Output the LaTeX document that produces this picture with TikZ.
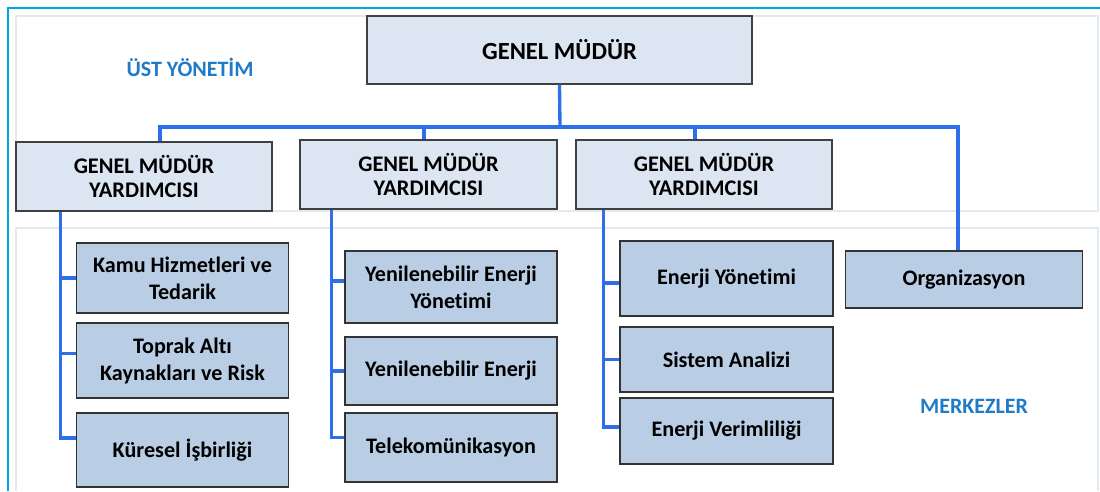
\documentclass[tikz,border=0pt]{standalone}
\usepackage{fontspec}
\setmainfont{Carlito}[Ligatures=NoCommon]
\usepackage{tikz}
\usetikzlibrary{calc}

\definecolor{wireblue}{HTML}{2F6EEB}
\definecolor{framecyan}{HTML}{00A8E6}
\definecolor{panelgray}{HTML}{E2EAEE}
\definecolor{headfill}{HTML}{DCE6F2}
\definecolor{unitfill}{HTML}{B9CDE5}
\definecolor{titleblue}{HTML}{1F7BC8}

\tikzset{
  headbox/.style={draw=black!75, line width=0.8pt, fill=headfill, align=center,
    font=\fontsize{12.7}{13.2}\selectfont\bfseries},
  unitbox/.style={draw=black!80, line width=0.8pt, fill=unitfill, align=center,
    minimum width=4.25cm, font=\fontsize{12.6}{15.4}\selectfont\bfseries},
  wire/.style={wireblue, line width=1.9pt},
  tier/.style={titleblue, font=\fontsize{12.5}{14}\selectfont\bfseries}
}

\begin{document}
\begin{tikzpicture}[x=0.02cm,y=-0.02cm]
    \useasboundingbox (0,0) rectangle (1100,491);

    % frame and panels
    \draw[framecyan, line width=1pt] (8,491) -- (8,8) -- (1100,8);
    \draw[panelgray, line width=0.6pt] (16,16) rectangle (1098,211);
    \draw[panelgray, line width=0.6pt] (16,491) |- (1098,228) -- (1098,491);

    \node[tier] (ust) at (190,67) {ÜST YÖNETİM};
    \node[tier] (merk) at (974,406) {MERKEZLER};

    % top
    \node[headbox, minimum width=7.7cm, minimum height=1.36cm,
      font=\fontsize{14}{15}\selectfont\bfseries] (GM) at (559.5,50) {GENEL MÜDÜR};
    \node[headbox, minimum width=5.12cm, minimum height=1.38cm] (GMY1) at (144,176.5) {GENEL MÜDÜR\\YARDIMCISI};
    \node[headbox, minimum width=5.14cm, minimum height=1.38cm] (GMY2) at (428.5,174.5) {GENEL MÜDÜR\\YARDIMCISI};
    \node[headbox, minimum width=5.12cm, minimum height=1.38cm] (GMY3) at (704,174.5) {GENEL MÜDÜR\\YARDIMCISI};
    \node[unitbox, minimum width=4.74cm, minimum height=1.14cm] (org) at (964,279.5) {Organizasyon};

    % units
    \node[unitbox, minimum height=1.4cm] (kamu) at (182.5,278) {Kamu Hizmetleri ve\\Tedarik};
    \node[unitbox, minimum height=1.5cm] (toprak) at (182.5,360.5) {Toprak Altı\\Kaynakları ve Risk};
    \node[unitbox, minimum height=1.48cm] (kuresel) at (182.5,450) {Küresel İşbirliği};

    \node[unitbox, minimum width=4.24cm, minimum height=1.44cm] (yeny) at (451,287) {Yenilenebilir Enerji\\Yönetimi};
    \node[unitbox, minimum width=4.24cm, minimum height=1.36cm] (yen) at (451,371) {Yenilenebilir Enerji};
    \node[unitbox, minimum width=4.24cm, minimum height=1.38cm] (tele) at (451,447.5) {Telekomünikasyon};

    \node[unitbox, minimum width=4.26cm, minimum height=1.5cm] (eny) at (726.5,278.5) {Enerji Yönetimi};
    \node[unitbox, minimum width=4.26cm, minimum height=1.3cm] (sis) at (726.5,359.5) {Sistem Analizi};
    \node[unitbox, minimum width=4.26cm, minimum height=1.32cm] (env) at (726.5,431) {Enerji Verimliliği};

    % top level wiring
    \coordinate (bus) at (560,127);
    \draw[wire] (GM.south) -- (bus);
    \draw[wire] ([xshift=0.32cm]GMY1.north) |- (bus) -| ([xshift=-0.12cm]org.north);
    \draw[wire] ([xshift=-0.09cm]GMY2.north) -- ([xshift=-0.09cm]GMY2.north |- bus);
    \draw[wire] ([xshift=-0.18cm]GMY3.north) -- ([xshift=-0.18cm]GMY3.north |- bus);

    % column spines
    \coordinate (s1) at ($(GMY1.south west)+(45,0)$);
    \coordinate (s2) at ($(GMY2.south west)+(32,0)$);
    \coordinate (s3) at ($(GMY3.south west)+(28,0)$);
    \draw[wire] (s1) |- ([yshift=0.24cm]kuresel.west);
    \draw[wire] (kamu.west) -- (kamu.west -| s1);
    \draw[wire] ([yshift=0.14cm]toprak.west) -- ([yshift=0.14cm]toprak.west -| s1);
    \draw[wire] (s2) |- ([yshift=0.2cm]tele.west);
    \draw[wire] ([yshift=0.12cm]yeny.west) -- ([yshift=0.12cm]yeny.west -| s2);
    \draw[wire] (yen.west) -- (yen.west -| s2);
    \draw[wire] (s3) |- ([yshift=0.08cm]env.west);
    \draw[wire] ([yshift=-0.09cm]eny.west) -- ([yshift=-0.09cm]eny.west -| s3);
    \draw[wire] (sis.west) -- (sis.west -| s3);
\end{tikzpicture}
\end{document}
